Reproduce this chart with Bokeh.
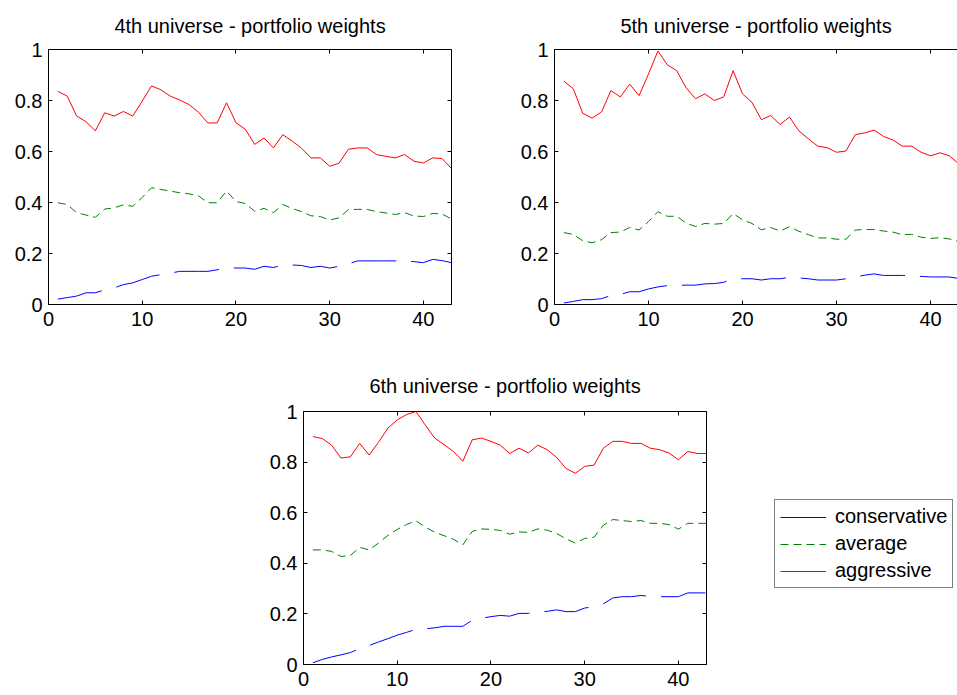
from bokeh.plotting import figure
from bokeh.models import (Range1d, LinearAxis, FixedTicker, Legend, LegendItem,
                          Title, Spacer)
from bokeh.layouts import column, row
from bokeh.embed import file_html
from bokeh.resources import INLINE

# ---------------- data ----------------
periods = list(range(1, 44))

x_ticks = [0, 10, 20, 30, 40]
y_ticks = [0, 0.2, 0.4, 0.6, 0.8, 1]
y_tick_labels = ["0", "0.2", "0.4", "0.6", "0.8", "1"]

series_names = ["conservative", "average", "aggressive"]

u4_conservative = [0.021, 0.027, 0.033, 0.046, 0.046, 0.057, 0.065, 0.078, 0.085, 0.098,
                   0.111, 0.117, 0.123, 0.13, 0.13, 0.13, 0.13, 0.136, 0.145, 0.143,
                   0.143, 0.138, 0.15, 0.145, 0.155, 0.155, 0.153, 0.145, 0.15, 0.143,
                   0.15, 0.16, 0.171, 0.171, 0.171, 0.171, 0.171, 0.171, 0.168, 0.164,
                   0.177, 0.172, 0.164]
u4_average = [0.399, 0.392, 0.36, 0.351, 0.342, 0.374, 0.379, 0.391, 0.385, 0.42,
              0.458, 0.451, 0.445, 0.438, 0.434, 0.426, 0.399, 0.399, 0.445, 0.404,
              0.396, 0.366, 0.377, 0.36, 0.392, 0.377, 0.364, 0.348, 0.345, 0.331,
              0.34, 0.372, 0.373, 0.373, 0.364, 0.359, 0.353, 0.36, 0.347, 0.345,
              0.357, 0.355, 0.335]
u4_aggressive = [0.836, 0.817, 0.739, 0.717, 0.681, 0.752, 0.739, 0.757, 0.739, 0.798,
                 0.857, 0.842, 0.817, 0.802, 0.784, 0.754, 0.712, 0.712, 0.791, 0.713,
                 0.687, 0.628, 0.653, 0.614, 0.666, 0.641, 0.613, 0.575, 0.575, 0.542,
                 0.554, 0.609, 0.614, 0.614, 0.588, 0.581, 0.575, 0.588, 0.562, 0.555,
                 0.575, 0.572, 0.533]

u5_conservative = [0.006, 0.012, 0.019, 0.019, 0.023, 0.035, 0.04, 0.05, 0.05, 0.061,
                   0.069, 0.074, 0.075, 0.076, 0.076, 0.081, 0.082, 0.087, 0.101, 0.101,
                   0.101, 0.096, 0.101, 0.101, 0.106, 0.104, 0.101, 0.096, 0.096, 0.096,
                   0.101, 0.108, 0.115, 0.12, 0.114, 0.114, 0.114, 0.114, 0.11, 0.108,
                   0.108, 0.108, 0.102]
u5_average = [0.282, 0.275, 0.25, 0.242, 0.254, 0.282, 0.284, 0.302, 0.292, 0.325,
              0.364, 0.346, 0.346, 0.319, 0.306, 0.318, 0.315, 0.318, 0.357, 0.332,
              0.318, 0.293, 0.302, 0.288, 0.305, 0.287, 0.274, 0.261, 0.261, 0.256,
              0.256, 0.292, 0.294, 0.294, 0.288, 0.284, 0.274, 0.275, 0.264, 0.259,
              0.262, 0.257, 0.247]
u5_aggressive = [0.876, 0.846, 0.75, 0.731, 0.755, 0.839, 0.814, 0.864, 0.819, 0.904,
                 0.994, 0.94, 0.917, 0.85, 0.807, 0.826, 0.8, 0.814, 0.917, 0.826,
                 0.793, 0.725, 0.741, 0.706, 0.735, 0.681, 0.65, 0.621, 0.615, 0.597,
                 0.602, 0.666, 0.673, 0.684, 0.659, 0.645, 0.621, 0.621, 0.597, 0.583,
                 0.595, 0.583, 0.552]

u6_conservative = [0.007, 0.02, 0.03, 0.038, 0.047, 0.063, 0.075, 0.089, 0.102, 0.116,
                   0.127, 0.139, 0.141, 0.145, 0.151, 0.151, 0.151, 0.175, 0.183, 0.189,
                   0.194, 0.191, 0.202, 0.202, 0.209, 0.21, 0.216, 0.209, 0.209, 0.223,
                   0.229, 0.24, 0.263, 0.268, 0.268, 0.273, 0.269, 0.268, 0.268, 0.268,
                   0.283, 0.283, 0.283]
u6_average = [0.453, 0.453, 0.447, 0.427, 0.431, 0.463, 0.453, 0.48, 0.51, 0.534,
              0.553, 0.568, 0.543, 0.523, 0.509, 0.495, 0.473, 0.526, 0.536, 0.534,
              0.53, 0.515, 0.524, 0.522, 0.536, 0.531, 0.518, 0.497, 0.48, 0.498,
              0.503, 0.551, 0.573, 0.569, 0.565, 0.569, 0.558, 0.558, 0.553, 0.535,
              0.558, 0.558, 0.558]
u6_aggressive = [0.901, 0.893, 0.867, 0.816, 0.821, 0.874, 0.828, 0.878, 0.934, 0.967,
                 0.988, 1.0, 0.946, 0.895, 0.869, 0.842, 0.803, 0.888, 0.895, 0.882,
                 0.867, 0.834, 0.855, 0.836, 0.867, 0.849, 0.819, 0.775, 0.756, 0.783,
                 0.788, 0.855, 0.882, 0.882, 0.874, 0.874, 0.855, 0.849, 0.836, 0.809,
                 0.842, 0.834, 0.834]

# ---------------- styling ----------------
FONT = "Liberation Sans"
FS = "20px"
COLORS = {"conservative": "#0000ff", "average": "#008000", "aggressive": "#ff0000"}
DASHES = {"conservative": "45 15", "average": "8 5", "aggressive": "solid"}


def make_axis(ticks, labels=None):
    ax = LinearAxis(ticker=FixedTicker(ticks=ticks))
    ax.axis_line_color = "black"
    ax.axis_line_width = 1
    ax.major_tick_in = 4
    ax.major_tick_out = 0
    ax.major_tick_line_color = "black"
    ax.minor_tick_line_color = None
    ax.major_label_text_font = FONT
    ax.major_label_text_color = "black"
    ax.major_label_text_font_size = FS
    if labels is not None:
        ax.major_label_overrides = {t: s for t, s in zip(ticks, labels)}
    return ax


def make_box_axis(ticks):
    ax = make_axis(ticks, labels=[""] * len(ticks))
    ax.major_label_standoff = 0
    ax.major_label_text_font_size = "1px"
    return ax


def make_panel(title, cons, avg, aggr, width, height, xmax, mb_left, mb_right,
               mb_top, mb_bottom, title_standoff, right_axis=True):
    p = figure(width=width, height=height, title=None, toolbar_location=None,
               output_backend="svg", x_range=Range1d(0, xmax), y_range=Range1d(0, 1),
               min_border_left=mb_left, min_border_right=mb_right,
               min_border_top=mb_top, min_border_bottom=mb_bottom,
               x_axis_type=None, y_axis_type=None)
    p.outline_line_color = None
    p.background_fill_color = "white"
    p.border_fill_color = "white"
    p.grid.visible = False

    xb = make_axis(x_ticks)
    xb.major_label_standoff = 7
    p.add_layout(xb, "below")

    yl = make_axis(y_ticks, y_tick_labels)
    yl.major_label_standoff = 6
    p.add_layout(yl, "left")

    p.add_layout(make_box_axis(x_ticks), "above")
    if right_axis:
        p.add_layout(make_box_axis(y_ticks), "right")

    t = Title(text=title, align="center", text_font=FONT, text_font_size=FS,
              text_font_style="normal", text_color="black", standoff=title_standoff)
    p.add_layout(t, "above")

    rends = {}
    for name, vals in zip(series_names, [cons, avg, aggr]):
        rends[name] = p.line(periods, vals, line_color=COLORS[name], line_width=1,
                             line_dash=DASHES[name])
    return p, rends


p1, _ = make_panel("4th universe - portfolio weights", u4_conservative, u4_average,
                   u4_aggressive, 500, 340, 43, 48, 49, 47, 36, 25)
p2, _ = make_panel("5th universe - portfolio weights", u5_conservative, u5_average,
                   u5_aggressive, 457, 340, 42.87, 54, 0, 45, 35, 25, right_axis=False)
p3, _ = make_panel("6th universe - portfolio weights", u6_conservative, u6_average,
                   u6_aggressive, 461, 355, 43, 48, 10, 71, 31, 29)

# ---------------- legend panel (to the right of the 6th-universe plot) ----------------
# The legend's sample renderers reuse the 6th-universe series; this panel's y range
# lies above the data, so only the legend itself shows here.
pl = figure(width=241, height=355, toolbar_location=None, output_backend="svg",
            x_range=Range1d(0, 43), y_range=Range1d(2, 3),
            x_axis_type=None, y_axis_type=None,
            min_border_left=0, min_border_right=0, min_border_top=0, min_border_bottom=0)
pl.outline_line_color = None
pl.grid.visible = False

leg_rends = {}
for name, vals in zip(series_names, [u6_conservative, u6_average, u6_aggressive]):
    leg_rends[name] = [pl.line(periods, vals, line_color=COLORS[name], line_width=1,
                               line_dash="solid" if name == "conservative" else DASHES[name])]

legend = Legend(items=[LegendItem(label=n, renderers=leg_rends[n]) for n in series_names])
legend.location = (58, 76)
legend.margin = 0
legend.padding = 5
legend.spacing = 4
legend.glyph_width = 46
legend.glyph_height = 20
legend.label_height = 20
legend.label_standoff = 9
legend.label_text_font = FONT
legend.label_text_font_size = FS
legend.label_text_color = "black"
legend.border_line_color = "black"
legend.border_line_width = 1
legend.background_fill_color = "white"
legend.background_fill_alpha = 1
legend.click_policy = "none"
pl.add_layout(legend, "center")

layout = column(row(p1, p2), row(Spacer(width=255, height=355), p3, pl))

open("out.html", "w").write(file_html(layout, INLINE))
